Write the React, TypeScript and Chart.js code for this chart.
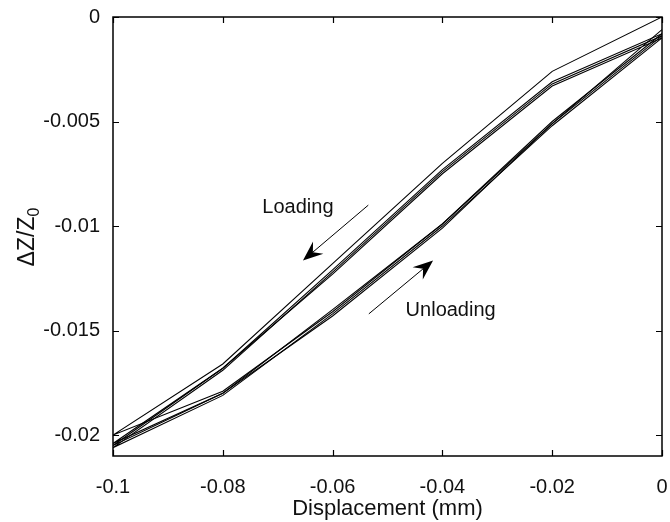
import React, { useEffect, useRef } from "react";
import { Chart, registerables } from "chart.js";

Chart.register(...registerables);

// Displacement points (mm)
const LOAD_X = [0, -0.02, -0.04, -0.06, -0.08, -0.1];
const UNLOAD_X = [-0.08, -0.06, -0.04, -0.02, 0];

// ΔZ/Z0 per cycle: loading branch (0 -> -0.1) and unloading branch (-0.08 -> 0)
const CYCLE1_LOAD = [0, -0.0026, -0.0070, -0.0118, -0.0166, -0.0200];
const CYCLE1_UNLOAD = [-0.0179, -0.0141, -0.0099, -0.0050, -0.0008];
const CYCLE2_LOAD = [-0.0008, -0.0031, -0.0073, -0.0121, -0.0168, -0.0205];
const CYCLE2_UNLOAD = [-0.0180, -0.0143, -0.0101, -0.0051, -0.0009];
const CYCLE3_LOAD = [-0.0009, -0.0032, -0.0074, -0.0122, -0.0169, -0.0206];
const CYCLE3_UNLOAD = [-0.0181, -0.0142, -0.0100, -0.0052, -0.0010];
const CYCLE4_LOAD = [-0.0010, -0.0033, -0.0075, -0.0123, -0.0168, -0.0204];
const CYCLE4_UNLOAD = [-0.0180, -0.0140, -0.0099, -0.0051, -0.0006];

const X_TICKS = [-0.1, -0.08, -0.06, -0.04, -0.02, 0];
const X_TICK_LABELS = ["-0.1", "-0.08", "-0.06", "-0.04", "-0.02", "0"];
const Y_TICKS = [-0.02, -0.015, -0.01, -0.005, 0];
const Y_TICK_LABELS = ["-0.02", "-0.015", "-0.01", "-0.005", "0"];

const X_TITLE = "Displacement (mm)";
const Y_TITLE_MAIN = "ΔZ/Z";
const Y_TITLE_SUB = "0";
const LOADING_LABEL = "Loading";
const UNLOADING_LABEL = "Unloading";

const FONT = "'Liberation Sans', Arial, Helvetica, sans-serif";

function cycle(load: number[], unload: number[]) {
  const pts = LOAD_X.map((x, i) => ({ x, y: load[i] }));
  UNLOAD_X.forEach((x, i) => pts.push({ x, y: unload[i] }));
  return pts;
}

// Annotation anchors in data coordinates
const LOAD_TEXT_POS = { x: -0.0728, y: -0.0091 };
const LOAD_ARROW = { x1: -0.0535, y1: -0.0090, x2: -0.0654, y2: -0.01165 };
const UNLOAD_ARROW = { x1: -0.0534, y1: -0.0142, x2: -0.0417, y2: -0.01165 };
const UNLOAD_TEXT_POS = { x: -0.0467, y: -0.01405 };

function drawArrow(ctx: CanvasRenderingContext2D, x1: number, y1: number, x2: number, y2: number) {
  const ang = Math.atan2(y2 - y1, x2 - x1);
  const L = 20;
  const W = 8;
  const notch = 13;
  ctx.beginPath();
  ctx.moveTo(x1, y1);
  ctx.lineTo(x2 - Math.cos(ang) * notch, y2 - Math.sin(ang) * notch);
  ctx.lineWidth = 1;
  ctx.stroke();
  const bx = x2 - Math.cos(ang) * L;
  const by = y2 - Math.sin(ang) * L;
  const px = -Math.sin(ang);
  const py = Math.cos(ang);
  ctx.beginPath();
  ctx.moveTo(x2, y2);
  ctx.lineTo(bx + px * W, by + py * W);
  ctx.lineTo(x2 - Math.cos(ang) * notch, y2 - Math.sin(ang) * notch);
  ctx.lineTo(bx - px * W, by - py * W);
  ctx.closePath();
  ctx.fill();
}

const overlay = {
  id: "overlay",
  afterDraw(chart: any) {
    const { ctx, chartArea, scales } = chart;
    const { left, right, top, bottom } = chartArea;
    const xs = scales.x;
    const ys = scales.y;
    ctx.save();
    ctx.strokeStyle = "#000";
    ctx.fillStyle = "#000";
    // box
    ctx.lineWidth = 1.5;
    ctx.strokeRect(left, top, right - left, bottom - top);
    // inward ticks on all four sides
    ctx.lineWidth = 1.2;
    const tl = 6;
    ctx.beginPath();
    X_TICKS.forEach((v) => {
      const p = Math.round(xs.getPixelForValue(v)) + 0.5;
      ctx.moveTo(p, bottom);
      ctx.lineTo(p, bottom - tl);
      ctx.moveTo(p, top);
      ctx.lineTo(p, top + tl);
    });
    Y_TICKS.forEach((v) => {
      const p = Math.round(ys.getPixelForValue(v)) + 0.5;
      ctx.moveTo(left, p);
      ctx.lineTo(left + tl, p);
      ctx.moveTo(right, p);
      ctx.lineTo(right - tl, p);
    });
    ctx.stroke();

    // arrows
    drawArrow(
      ctx,
      xs.getPixelForValue(LOAD_ARROW.x1),
      ys.getPixelForValue(LOAD_ARROW.y1),
      xs.getPixelForValue(LOAD_ARROW.x2),
      ys.getPixelForValue(LOAD_ARROW.y2)
    );
    drawArrow(
      ctx,
      xs.getPixelForValue(UNLOAD_ARROW.x1),
      ys.getPixelForValue(UNLOAD_ARROW.y1),
      xs.getPixelForValue(UNLOAD_ARROW.x2),
      ys.getPixelForValue(UNLOAD_ARROW.y2)
    );

    // annotation texts
    ctx.fillStyle = "#111";
    ctx.font = `20px ${FONT}`;
    ctx.textAlign = "left";
    ctx.textBaseline = "middle";
    ctx.fillText(LOADING_LABEL, xs.getPixelForValue(LOAD_TEXT_POS.x), ys.getPixelForValue(LOAD_TEXT_POS.y));
    ctx.fillText(UNLOADING_LABEL, xs.getPixelForValue(UNLOAD_TEXT_POS.x), ys.getPixelForValue(UNLOAD_TEXT_POS.y));

    // y-axis title with subscript, rotated
    ctx.save();
    const mainFont = `23px ${FONT}`;
    const subFont = `16px ${FONT}`;
    ctx.font = mainFont;
    const wMain = ctx.measureText(Y_TITLE_MAIN).width;
    ctx.font = subFont;
    const wSub = ctx.measureText(Y_TITLE_SUB).width;
    const total = wMain + wSub;
    const cy = 237;
    ctx.translate(34, cy);
    ctx.rotate(-Math.PI / 2);
    ctx.textAlign = "left";
    ctx.textBaseline = "alphabetic";
    ctx.font = mainFont;
    ctx.fillText(Y_TITLE_MAIN, -total / 2, 0);
    ctx.font = subFont;
    ctx.fillText(Y_TITLE_SUB, -total / 2 + wMain, 5);
    ctx.restore();

    ctx.restore();
  },
};

export default function App() {
  const canvasRef = useRef<HTMLCanvasElement | null>(null);

  useEffect(() => {
    document.body.style.margin = "0";
    const canvas = canvasRef.current;
    if (!canvas) return;
    const series = [
      cycle(CYCLE1_LOAD, CYCLE1_UNLOAD),
      cycle(CYCLE2_LOAD, CYCLE2_UNLOAD),
      cycle(CYCLE3_LOAD, CYCLE3_UNLOAD),
      cycle(CYCLE4_LOAD, CYCLE4_UNLOAD),
    ];
    const chart = new Chart(canvas, {
      type: "line",
      data: {
        datasets: series.map((data, i) => ({
          label: `Cycle ${i + 1}`,
          data,
          borderColor: "#000",
          borderWidth: 1.1,
          pointRadius: 0,
          tension: 0,
          fill: false,
        })),
      },
      options: {
        animation: false,
        responsive: false,
        maintainAspectRatio: false,
        layout: { padding: { left: 0, right: 8, top: 17, bottom: 0 } },
        plugins: {
          legend: { display: false },
          tooltip: { enabled: false },
        },
        scales: {
          x: {
            type: "linear",
            min: -0.1,
            max: 0,
            grid: { display: false },
            border: { display: false },
            afterBuildTicks: (s: any) => {
              s.ticks = X_TICKS.map((v) => ({ value: v }));
            },
            afterFit: (s: any) => {
              s.height = 66;
              s.paddingLeft = 0;
              s.paddingRight = 0;
              s.paddingTop = 0;
              s.paddingBottom = 0;
            },
            ticks: {
              autoSkip: false,
              maxRotation: 0,
              padding: 11,
              color: "#111",
              font: { size: 20, family: FONT },
              callback: (v: any) => {
                const i = X_TICKS.findIndex((t) => Math.abs(t - Number(v)) < 1e-9);
                return i >= 0 ? X_TICK_LABELS[i] : "";
              },
            },
            title: {
              display: true,
              text: X_TITLE,
              color: "#111",
              font: { size: 22, family: FONT },
              padding: { top: 0, bottom: 0 },
            },
          },
          y: {
            type: "linear",
            min: -0.021,
            max: 0,
            grid: { display: false },
            border: { display: false },
            afterBuildTicks: (s: any) => {
              s.ticks = Y_TICKS.map((v) => ({ value: v }));
            },
            afterFit: (s: any) => {
              s.width = 113;
              s.paddingLeft = 0;
              s.paddingRight = 0;
              s.paddingTop = 0;
              s.paddingBottom = 0;
            },
            ticks: {
              autoSkip: false,
              padding: 5,
              color: "#111",
              font: { size: 20, family: FONT },
              callback: (v: any) => {
                const i = Y_TICKS.findIndex((t) => Math.abs(t - Number(v)) < 1e-9);
                return i >= 0 ? Y_TICK_LABELS[i] : "";
              },
            },
          },
        },
      },
      plugins: [overlay],
    });
    return () => chart.destroy();
  }, []);

  return (
    <div style={{ width: 670, height: 522, background: "#fff" }}>
      <canvas ref={canvasRef} width={670} height={522} style={{ display: "block" }} />
    </div>
  );
}
